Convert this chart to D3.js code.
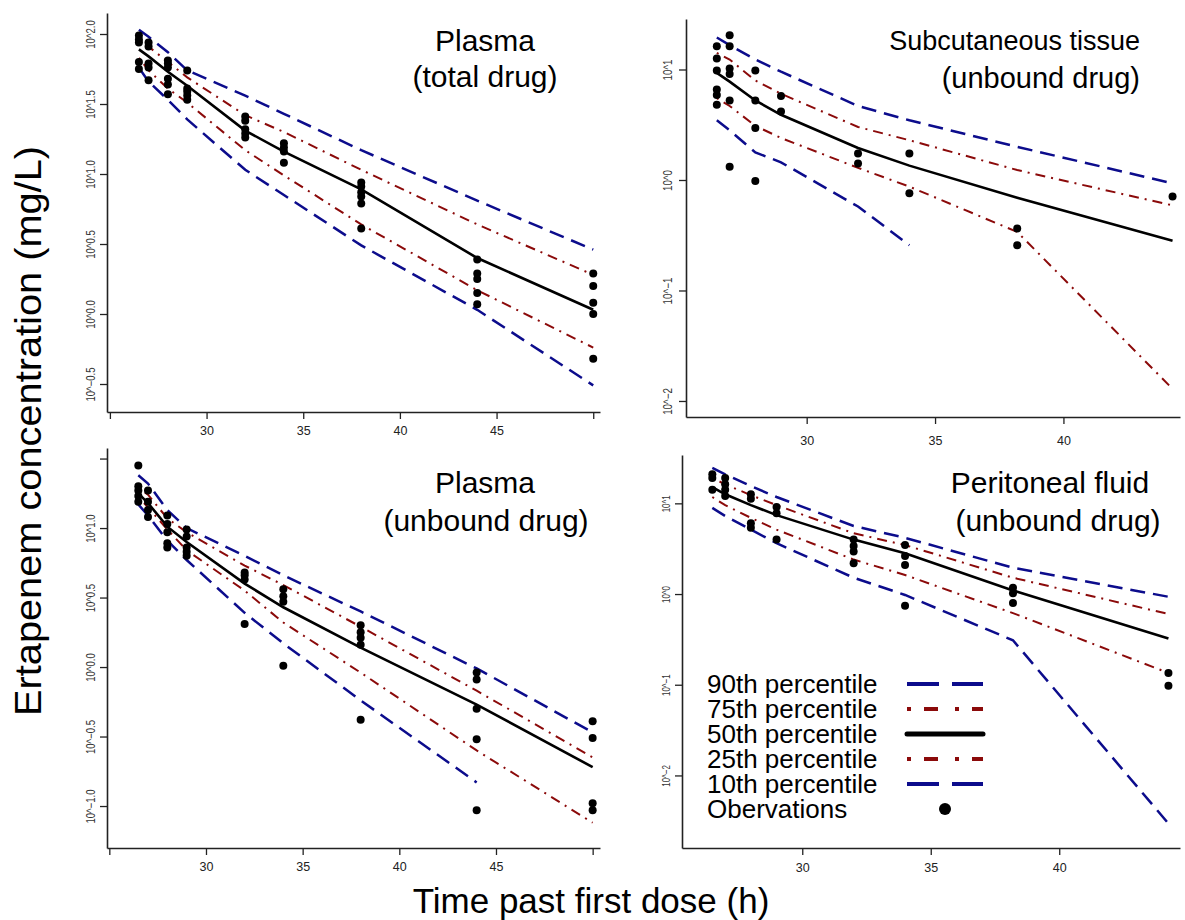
<!DOCTYPE html>
<html>
<head>
<meta charset="utf-8">
<script src="https://cdn.jsdelivr.net/npm/d3@7"></script>
<style>
  body { margin: 0; background: #fff; }
  svg { display: block; font-family: "Liberation Sans", Arial, sans-serif; }
</style>
</head>
<body>
<svg id="chart" width="1185" height="920"></svg>
<script>
// sampling times (h past first dose)
const times = [26.5, 27, 28, 29, 32, 34, 38, 44, 50];
const timesRight = [26.5, 27, 28, 29, 32, 34, 38.2, 44.25];

const legendLabels = ["90th percentile", "75th percentile", "50th percentile",
                      "25th percentile", "10th percentile", "Obervations"];

// percentile curves as log10(mg/L); rows: 90th, 75th, 50th, 25th, 10th
const plasmaTotalPct = [
  [2.03, 1.98, 1.87, 1.74, 1.56, 1.43, 1.17, 0.81, 0.46],
  [1.96, 1.91, 1.80, 1.69, 1.42, 1.30, 1.03, 0.64, 0.28],
  [1.89, 1.84, 1.73, 1.63, 1.31, 1.16, 0.89, 0.40, 0.03],
  [1.83, 1.74, 1.61, 1.51, 1.17, 0.99, 0.64, 0.17, -0.24],
  [1.76, 1.66, 1.53, 1.39, 1.03, 0.85, 0.49, 0.03, -0.51]
];
const tissuePct = [
  [1.29, 1.22, 1.09, 0.98, 0.67, 0.54, 0.30, -0.03],
  [1.15, 1.09, 0.90, 0.78, 0.48, 0.36, 0.09, -0.23],
  [0.97, 0.89, 0.72, 0.59, 0.29, 0.13, -0.16, -0.55],
  [0.74, 0.67, 0.49, 0.38, 0.11, -0.06, -0.47, -1.89],
  [0.54, 0.45, 0.25, 0.16, -0.24, -0.59, null, null]
];
const plasmaFreePct = [
  [1.38, 1.32, 1.13, 1.00, 0.80, 0.66, 0.40, -0.01, -0.47],
  [1.29, 1.24, 1.07, 0.97, 0.73, 0.59, 0.29, -0.17, -0.65],
  [1.25, 1.18, 1.01, 0.90, 0.60, 0.43, 0.14, -0.27, -0.72],
  [1.22, 1.15, 0.99, 0.84, 0.55, 0.32, -0.04, -0.60, -1.12],
  [1.17, 1.09, 0.91, 0.77, 0.39, 0.17, -0.24, -0.83, null]
];
const peritonealPct = [
  [1.39, 1.32, 1.19, 1.07, 0.75, 0.62, 0.29, -0.03],
  [1.28, 1.21, 1.09, 0.98, 0.67, 0.54, 0.18, -0.22],
  [1.18, 1.10, 0.98, 0.87, 0.60, 0.45, 0.04, -0.49],
  [1.07, 0.98, 0.84, 0.71, 0.38, 0.21, -0.21, -0.87],
  [0.95, 0.86, 0.71, 0.56, 0.18, -0.01, -0.51, -2.53]
];

// observations as log10(mg/L), one list per sampling time
const plasmaTotalObs = [
  [1.99, 1.96, 1.94, 1.80, 1.75],
  [1.94, 1.91, 1.79, 1.76, 1.67],
  [1.81, 1.79, 1.76, 1.68, 1.64, 1.57],
  [1.74, 1.61, 1.59, 1.56, 1.53],
  [1.41, 1.38, 1.32, 1.29, 1.26],
  [1.22, 1.19, 1.16, 1.08],
  [0.94, 0.91, 0.87, 0.84, 0.79, 0.61],
  [0.39, 0.29, 0.25, 0.15, 0.07],
  [0.29, 0.20, 0.08, 0.00, -0.32]
];
const tissueObs = [
  [1.21, 1.10, 0.99, 0.82, 0.77, 0.68],
  [1.31, 1.21, 1.01, 0.96, 0.72, 0.12],
  [0.99, 0.72, 0.47, -0.01],
  [0.76, 0.62],
  [0.24, 0.15],
  [0.24, -0.12],
  [-0.44, -0.59],
  [-0.15]
];
const plasmaFreeObs = [
  [1.45, 1.30, 1.27, 1.23, 1.19],
  [1.27, 1.19, 1.13, 1.08],
  [1.09, 1.03, 0.97, 0.89, 0.86],
  [0.99, 0.94, 0.86, 0.83, 0.80],
  [0.68, 0.66, 0.63, 0.31],
  [0.56, 0.51, 0.47, 0.01],
  [0.30, 0.25, 0.21, 0.16, -0.38],
  [-0.04, -0.09, -0.30, -0.52, -1.03],
  [-0.39, -0.51, -0.98, -1.03]
];
const peritonealObs = [
  [1.32, 1.28, 1.15],
  [1.28, 1.21, 1.15, 1.08],
  [1.10, 1.05, 0.78, 0.73],
  [0.96, 0.89, 0.60],
  [0.60, 0.53, 0.47, 0.34],
  [0.54, 0.42, 0.32, -0.13],
  [0.07, 0.01, -0.10],
  [-0.87, -1.01]
];

const blue = "#0c0c8c", red = "#8b0a0a";
const lineStyles = [
  { color: blue, width: 2.5, dash: "15,8" },
  { color: red, width: 2, dash: "2,6,10,6" },
  { color: "#000", width: 2.6, dash: null },
  { color: red, width: 2, dash: "2,6,10,6" },
  { color: blue, width: 2.5, dash: "15,8" }
];
const legendStyles = [
  { color: blue, width: 4, dash: "32,13" },
  { color: red, width: 4, dash: "4,13,14,17" },
  { color: "#000", width: 5, dash: null },
  { color: red, width: 4, dash: "4,13,14,17" },
  { color: blue, width: 4, dash: "32,13" }
];

const panels = [
  { title: ["Plasma", "(total drug)"], tx: [485, 485], anchor: "middle", ty: [51, 87], tfs: [30, 30],
    t: times, pct: plasmaTotalPct, obs: plasmaTotalObs,
    box: [107, 600, 13, 412], xDom: [24.85, 50.35], yDom: [-0.70, 2.15],
    xTicks: [25, 30, 35, 40, 45, 50], xLabels: [30, 35, 40, 45],
    yTicks: [-0.5, 0, 0.5, 1, 1.5, 2], yLabels: [-0.5, 0, 0.5, 1, 1.5, 2], dec: 1,
    labOff: 12, xLabOff: 23, fs: 12, squeeze: 0.8 },
  { title: ["Subcutaneous tissue", "(unbound drug)"], tx: [1140, 1140], anchor: "end", ty: [50, 88], tfs: [27, 29],
    t: timesRight, pct: tissuePct, obs: tissueObs,
    box: [686, 1180, 19, 417], xDom: [25.30, 44.54], yDom: [-2.145, 1.457],
    xTicks: [30, 35, 40], xLabels: [30, 35, 40],
    yTicks: [-2, -1, 0, 1], yLabels: [-2, -1, 0, 1], dec: 0,
    labOff: 14, xLabOff: 28, fs: 12, squeeze: 0.82 },
  { title: ["Plasma", "(unbound drug)"], tx: [485, 486], anchor: "middle", ty: [493, 531], tfs: [30, 30],
    t: times, pct: plasmaFreePct, obs: plasmaFreeObs,
    box: [107, 600, 448, 848], xDom: [24.88, 50.38], yDom: [-1.302, 1.576],
    xTicks: [25, 30, 35, 40, 45, 50], xLabels: [30, 35, 40, 45],
    yTicks: [-1, -0.5, 0, 0.5, 1, 1.5], yLabels: [-1, -0.5, 0, 0.5, 1], dec: 1,
    labOff: 12, xLabOff: 23, fs: 12, squeeze: 0.8 },
  { title: ["Peritoneal fluid", "(unbound drug)"], tx: [1050, 1058], anchor: "middle", ty: [493, 531], tfs: [30, 30],
    t: timesRight, pct: peritonealPct, obs: peritonealObs,
    box: [682, 1180, 455, 848], xDom: [25.32, 44.70], yDom: [-2.80, 1.533],
    xTicks: [30, 35, 40], xLabels: [30, 35, 40],
    yTicks: [-2, -1, 0, 1], yLabels: [-2, -1, 0, 1], dec: 0,
    labOff: 12, xLabOff: 23.5, fs: 11, squeeze: 0.72 }
];

const svg = d3.select("#chart");
const fmtExp = (v, dec) => "10^" + (v < 0 ? "\u2212" : "") + Math.abs(v).toFixed(dec);

panels.forEach(p => {
  const [x0, x1, y0, y1] = p.box;
  const x = d3.scaleLinear().domain(p.xDom).range([x0, x1]);
  const y = d3.scaleLinear().domain(p.yDom).range([y1, y0]);
  const g = svg.append("g");

  // y axis
  const ya = g.append("g")
    .attr("transform", `translate(${x0},0)`)
    .call(d3.axisLeft(y).tickValues(p.yTicks).tickSize(7).tickSizeOuter(0)
      .tickFormat(v => p.yLabels.includes(v) ? fmtExp(v, p.dec) : ""));
  ya.select(".domain").attr("stroke", "#222").attr("stroke-width", 1.6);
  ya.selectAll(".tick line").attr("stroke", "#222").attr("stroke-width", 1.3);
  ya.selectAll(".tick text")
    .attr("transform", "rotate(-90)")
    .attr("x", 0).attr("y", -p.labOff).attr("dy", 0)
    .attr("text-anchor", "middle")
    .attr("fill", "#333")
    .style("font-size", p.fs + "px")
    .each(function () {
      const w = this.getComputedTextLength();
      if (w > 0) d3.select(this).attr("textLength", w * p.squeeze).attr("lengthAdjust", "spacingAndGlyphs");
    });

  // x axis
  const xa = g.append("g")
    .attr("transform", `translate(0,${y1})`)
    .call(d3.axisBottom(x).tickValues(p.xTicks).tickSize(7).tickSizeOuter(0)
      .tickFormat(v => p.xLabels.includes(v) ? v : ""));
  xa.select(".domain").attr("stroke", "#222").attr("stroke-width", 1.6);
  xa.selectAll(".tick line").attr("stroke", "#222").attr("stroke-width", 1.3);
  xa.selectAll(".tick text")
    .attr("y", p.xLabOff).attr("dy", 0)
    .attr("fill", "#222")
    .style("font-size", "12.5px");

  // percentile lines
  p.pct.forEach((row, i) => {
    const st = lineStyles[i];
    const line = d3.line()
      .defined(d => d[1] !== null)
      .x(d => x(d[0])).y(d => y(d[1]));
    g.append("path")
      .datum(row.map((v, j) => [p.t[j], v]))
      .attr("d", line)
      .attr("fill", "none")
      .attr("stroke", st.color)
      .attr("stroke-width", st.width)
      .attr("stroke-dasharray", st.dash);
  });

  // observations
  const pts = p.obs.flatMap((vals, j) => vals.map(v => [p.t[j], v]));
  g.selectAll("circle.obs")
    .data(pts)
    .join("circle")
    .attr("class", "obs")
    .attr("cx", d => x(d[0]))
    .attr("cy", d => y(d[1]))
    .attr("r", 4)
    .attr("fill", "#000");

  // panel title
  g.selectAll("text.title")
    .data(p.title)
    .join("text")
    .attr("class", "title")
    .attr("x", (d, i) => p.tx[i])
    .attr("y", (d, i) => p.ty[i])
    .attr("text-anchor", p.anchor)
    .style("font-size", (d, i) => p.tfs[i] + "px")
    .attr("fill", "#000")
    .text(d => d);
});

// legend in the peritoneal panel
const legend = svg.append("g");
legendLabels.forEach((lab, i) => {
  const yy = 693 + i * 25;
  legend.append("text")
    .attr("x", 707).attr("y", yy)
    .style("font-size", "26px")
    .text(lab);
  if (i < 5) {
    const st = legendStyles[i];
    legend.append("line")
      .attr("x1", 907).attr("x2", 983)
      .attr("y1", yy - 9).attr("y2", yy - 9)
      .attr("stroke", st.color)
      .attr("stroke-width", st.width)
      .attr("stroke-dasharray", st.dash)
      .attr("stroke-linecap", i === 2 ? "round" : "butt");
  } else {
    legend.append("circle")
      .attr("cx", 945).attr("cy", yy - 9).attr("r", 6)
      .attr("fill", "#000");
  }
});

// shared axis titles
svg.append("text")
  .attr("transform", "translate(41,431) rotate(-90)")
  .attr("text-anchor", "middle")
  .attr("textLength", 570)
  .attr("lengthAdjust", "spacingAndGlyphs")
  .style("font-size", "36px")
  .text("Ertapenem concentration (mg/L)");

svg.append("text")
  .attr("x", 591).attr("y", 913)
  .attr("text-anchor", "middle")
  .style("font-size", "35px")
  .text("Time past first dose (h)");
</script>
</body>
</html>
